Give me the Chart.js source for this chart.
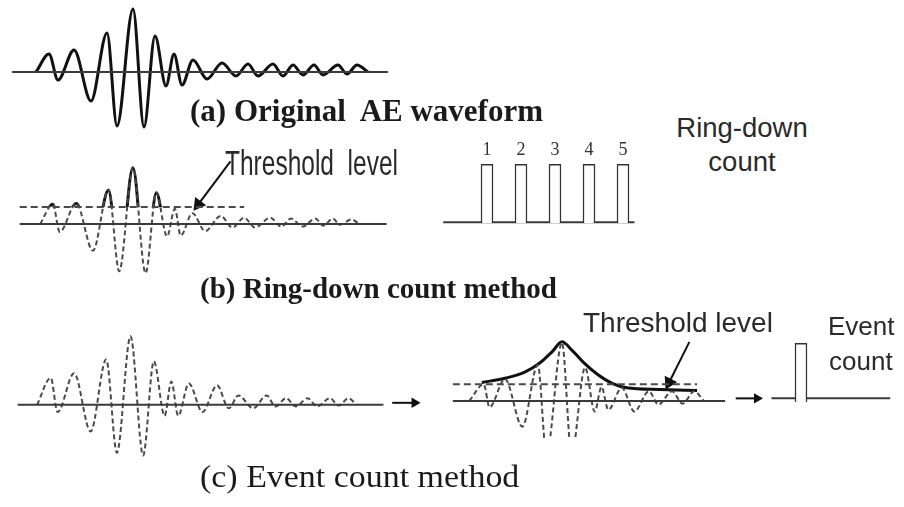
<!DOCTYPE html>
<html>
<head>
<meta charset="utf-8">
<script src="https://cdn.jsdelivr.net/npm/chart.js@4.4.0/dist/chart.umd.min.js"></script>
<style>
html, body { margin: 0; padding: 0; background: #fff; }
#page { position: relative; width: 904px; height: 507px; overflow: hidden; }
canvas { position: absolute; }
.lbl { position: absolute; white-space: pre; line-height: 1; color: #1a1a1a; transform-origin: 0 0; }
.serif { font-family: "Liberation Serif", "Times New Roman", serif; }
.sans { font-family: "Liberation Sans", Arial, sans-serif; color: #2a2a2a; }
</style>
</head>
<body>
<div id="page">
  <canvas id="cA" width="400" height="140" style="left:0;top:0"></canvas>
  <canvas id="cB" width="660" height="150" style="left:0;top:140px"></canvas>
  <canvas id="cRing" width="170" height="88" style="left:470px;top:135px"></canvas>
  <canvas id="cC1" width="440" height="157" style="left:0;top:310px"></canvas>
  <canvas id="cC2" width="464" height="137" style="left:440px;top:310px"></canvas>
  <canvas id="cEvent" width="52" height="82" style="left:775px;top:320px"></canvas>

  <div class="lbl serif" style="left:190px;top:95px;font-size:31px;font-weight:bold">(a) Original  AE waveform</div>
  <div class="lbl sans" style="left:225px;top:145px;font-size:35px;transform:scaleX(0.7)">Threshold  level</div>
  <div class="lbl sans" style="left:662px;top:114px;width:160px;text-align:center;font-size:27.5px">Ring-down</div>
  <div class="lbl sans" style="left:662px;top:148px;width:160px;text-align:center;font-size:27.5px">count</div>
  <div class="lbl serif" style="left:200px;top:274px;font-size:29px;font-weight:bold">(b) Ring-down count method</div>
  <div class="lbl sans" style="left:583px;top:309px;font-size:28px">Threshold level</div>
  <div class="lbl sans" style="left:828px;top:313px;font-size:26px">Event</div>
  <div class="lbl sans" style="left:829px;top:348px;font-size:26px">count</div>
  <div class="lbl serif" style="left:200px;top:460px;font-size:32px;transform:scaleX(1.06)">(c) Event count method</div>
</div>

<script>
// time / amplitude of every peak and trough

// (a) original AE waveform
const waveA_t = [36, 49, 58, 74, 91, 107, 117, 133, 144, 155, 166, 174, 182, 193, 207, 222, 236, 248, 258, 273, 283, 293, 303, 314, 323, 338, 347, 357, 368];
const waveA_v = [0, 18, -8, 22, -29, 39, -54, 63, -55, 36, -14, 18, -13, 12, -7, 9, -4, 8, -4, 8, -4, 7, -3, 7, -3, 7, -2, 7, 0];

// (b) ring-down count: same burst, part above threshold drawn solid
const waveB_t = [33, 46, 53, 70, 87, 103, 114, 128, 141, 152, 163, 171, 177, 189, 202, 218, 230, 242, 253, 269, 280, 290, 302, 315, 323, 333, 340, 352, 360];
const waveB_v = [0, 22, -9, 23, -30, 38, -53, 63, -55, 35, -14, 17, -13, 12, -8, 9, -4, 7, -4, 7, -3, 6, -3, 6, -2, 6, -1, 5, 0];
const thresholdB = 19;
const ringLabels = ['1', '2', '3', '4', '5'];
const ringCounts = [1, 1, 1, 1, 1];

// (c) event count
const waveC1_t = [32, 46, 53, 70, 87, 103, 114, 128, 141, 152, 163, 170, 177, 188, 202, 217, 229, 239, 254, 268, 277, 288, 298, 310, 320, 333, 342, 352, 360];
const waveC1_v = [0, 29, -8, 34, -29, 49, -52, 74, -55, 47, -12, 25, -12, 23, -8, 21, -4, 10, -4, 10, -2, 7, -2, 7, -2, 7, -1, 7, 0];

const waveC2_t = [462, 477, 483, 499, 517, 533, 542, 558, 568, 582, 592, 599, 606, 620, 633, 648, 658, 672, 683, 695, 705];
const waveC2_v = [0, 19, -7, 25, -29, 41, -60, 66, -60, 38, -12, 16, -10, 15, -12, 11, -4, 11, -3, 11, 0];
const envelope_t = [475, 500, 520, 535, 548, 558, 568, 580, 595, 610, 625, 660, 698];
const envelope_v = [21, 26, 33, 43, 56, 67, 58, 44, 30, 20, 15, 13, 12];
const thresholdC = 19;
const eventCounts = [1];

// pointer arrows from the "Threshold level" labels
const arrowB_t = [228, 195];
const arrowB_v = [70, 22];
const arrowC_t = [690, 669];
const arrowC_v = [67, 21];


function series(t, v) {
    return t.map((x, i) => ({ x: x, y: v[i] }));
}

function flat(x0, x1, level) {
    return [{ x: x0, y: level }, { x: x1, y: level }];
}

function baseOptions(xMin, xMax, yMin, yMax) {
    return {
        responsive: false,
        animation: false,
        events: [],
        layout: { padding: 0 },
        plugins: { legend: { display: false }, tooltip: { enabled: false } },
        scales: {
            x: { type: 'linear', min: xMin, max: xMax, display: false },
            y: { type: 'linear', min: yMin, max: yMax, display: false }
        },
        elements: { point: { radius: 0 } }
    };
}

// styles
function solidWave(data) {
    return { data: data, borderColor: '#111', borderWidth: 3, cubicInterpolationMode: 'monotone', pointRadius: 0 };
}
function dashedWave(data) {
    return { data: data, borderColor: '#4a4a4a', borderWidth: 2, borderDash: [5, 3], cubicInterpolationMode: 'monotone', pointRadius: 0 };
}
function baseLine(data) {
    return { data: data, borderColor: '#3a3a3a', borderWidth: 2, pointRadius: 0 };
}
function thresholdLine(data) {
    return { data: data, borderColor: '#4a4a4a', borderWidth: 2, borderDash: [7, 4], pointRadius: 0 };
}
function arrow(data, size) {
    return {
        data: data,
        borderColor: '#111',
        borderWidth: 2,
        pointRadius: [0, size],
        pointStyle: 'triangle',
        pointBackgroundColor: '#111',
        pointBorderColor: '#111',
        // point the head along the shaft
        rotation: function(ctx) {
            const c = ctx.chart, d = ctx.dataset.data;
            const dx = c.scales.x.getPixelForValue(d[1].x) - c.scales.x.getPixelForValue(d[0].x);
            const dy = c.scales.y.getPixelForValue(d[1].y) - c.scales.y.getPixelForValue(d[0].y);
            return Math.atan2(dx, -dy) * 180 / Math.PI;
        }
    };
}

// draws a dataset only above its "clipAbove" level
const clipAbovePlugin = {
    id: 'clipAbove',
    beforeDatasetDraw(chart, args) {
        const ds = chart.data.datasets[args.index];
        if (ds.clipAbove === undefined) return;
        const py = chart.scales.y.getPixelForValue(ds.clipAbove);
        const ctx = chart.ctx;
        ctx.save();
        ctx.beginPath();
        ctx.rect(0, 0, chart.width, py);
        ctx.clip();
    },
    afterDatasetDraw(chart, args) {
        const ds = chart.data.datasets[args.index];
        if (ds.clipAbove === undefined) return;
        chart.ctx.restore();
    }
};

// count number above each pulse
const countLabelPlugin = {
    id: 'countLabels',
    afterDatasetsDraw(chart) {
        const ctx = chart.ctx;
        const meta = chart.getDatasetMeta(0);
        ctx.save();
        ctx.font = '18px "Liberation Serif", serif';
        ctx.fillStyle = '#333';
        ctx.textAlign = 'center';
        ctx.textBaseline = 'middle';
        meta.data.forEach(function(bar, i) {
            const txt = chart.data.labels[i];
            if (txt) ctx.fillText(txt, bar.x, bar.y - 14);
        });
        ctx.restore();
    }
};


// (a)
new Chart(document.getElementById('cA'), {
    type: 'line',
    data: { datasets: [
        baseLine(flat(12, 388, 0)),
        solidWave(series(waveA_t, waveA_v))
    ] },
    options: baseOptions(0, 400, -68, 72)
});

// (b) waveform with threshold
const waveB = series(waveB_t, waveB_v);
const capB = solidWave(waveB);
capB.clipAbove = thresholdB;
new Chart(document.getElementById('cB'), {
    type: 'line',
    data: { datasets: [
        baseLine(flat(12, 388, 0)),
        baseLine(flat(446, 642, 2)),
        thresholdLine(flat(12, 242, thresholdB)),
        dashedWave(waveB),
        capB,
        arrow(series(arrowB_t, arrowB_v), 6)
    ] },
    options: baseOptions(0, 660, -65, 85),
    plugins: [clipAbovePlugin]
});

// ring-down count pulses
function pulseChart(id, labels, counts, yMax) {
    const opts = {
        responsive: false,
        animation: false,
        events: [],
        layout: { padding: 0 },
        plugins: { legend: { display: false }, tooltip: { enabled: false } },
        scales: {
            x: { type: 'category', display: false },
            y: { min: 0, max: yMax, display: false }
        }
    };
    return new Chart(document.getElementById(id), {
        type: 'bar',
        data: {
            labels: labels,
            datasets: [{
                data: counts,
                barThickness: 12,
                backgroundColor: '#fff',
                borderColor: '#333',
                borderWidth: 1.5
            }]
        },
        options: opts,
        plugins: [countLabelPlugin]
    });
}
pulseChart('cRing', ringLabels, ringCounts, 1.5);

// (c) left: the raw burst
new Chart(document.getElementById('cC1'), {
    type: 'line',
    data: { datasets: [
        baseLine(flat(12, 388, 0)),
        dashedWave(series(waveC1_t, waveC1_v)),
        arrow(flat(397, 420, 2), 4)
    ] },
    options: baseOptions(0, 440, -61, 96)
});

// (c) right: envelope against threshold
new Chart(document.getElementById('cC2'), {
    type: 'line',
    data: { datasets: [
        baseLine(flat(445, 727, 0)),
        baseLine(flat(775, 898, 3)),
        thresholdLine(flat(445, 698, thresholdC)),
        dashedWave(series(waveC2_t, waveC2_v)),
        solidWave(series(envelope_t, envelope_v)),
        arrow(series(arrowC_t, arrowC_v), 6),
        arrow(flat(738, 760, 3), 4)
    ] },
    options: baseOptions(440, 904, -43, 94)
});

pulseChart('cEvent', [''], eventCounts, 1.4);
</script>
</body>
</html>
